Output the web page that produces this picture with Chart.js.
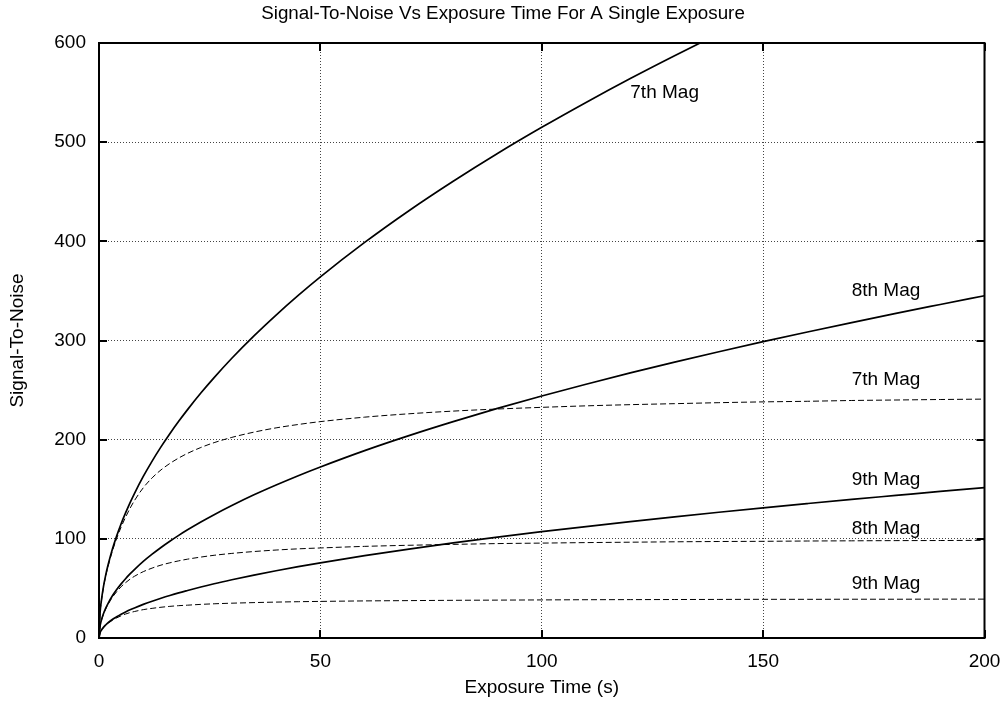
<!DOCTYPE html>
<html>
<head>
<meta charset="utf-8">
<script src="https://cdn.jsdelivr.net/npm/chart.js@4.4.1/dist/chart.umd.min.js"></script>
<style>
  html, body { margin: 0; padding: 0; background: #fff; }
  #snrChart { display: block; }
</style>
</head>
<body>
<canvas id="snrChart" width="1006" height="702"></canvas>
<script>
// exposure times (s) at which the curves are sampled
const exposureTimes = [0, 0.25, 0.5, 1, 1.5, 2, 3, 4, 5, 6, 7, 8, 10, 12, 14, 16, 18, 20, 23, 26, 30, 35, 40, 45, 50,
    60, 70, 80, 90, 100, 110, 120, 130, 140, 150, 160, 170, 180, 190, 200];

// solid curves
const mag7Solid = [0, 25.8, 36.4, 51.5, 63.1, 72.8, 89.2, 103.0, 115.2, 126.1, 136.3, 145.7, 162.9, 178.4, 192.7, 206.0, 218.5, 230.3, 247.0, 262.6, 282.1, 304.7, 325.7, 345.5, 364.2,
    398.9, 430.9, 460.6, 488.6, 515.0, 540.1, 564.2, 587.2, 609.4, null, null, null, null, null, null];
const mag8Solid = [0, 12.2, 17.3, 24.4, 29.9, 34.5, 42.3, 48.8, 54.6, 59.8, 64.6, 69.0, 77.2, 84.5, 91.3, 97.6, 103.5, 109.1, 117.0, 124.4, 133.6, 144.4, 154.3, 163.7, 172.5,
    189.0, 204.1, 218.2, 231.5, 244.0, 255.9, 267.3, 278.2, 288.7, 298.8, 308.6, 318.1, 327.4, 336.3, 345.1];
const mag9Solid = [0, 5.4, 7.6, 10.7, 13.1, 15.2, 18.6, 21.4, 24.0, 26.3, 28.4, 30.3, 33.9, 37.1, 40.1, 42.9, 45.5, 47.9, 51.4, 54.7, 58.7, 63.4, 67.8, 71.9, 75.8,
    83.0, 89.7, 95.9, 101.7, 107.2, 112.4, 117.4, 122.2, 126.8, 131.3, 135.6, 139.8, 143.8, 147.8, 151.6];

// dashed curves
const mag7Dashed = [0, 25.4, 35.8, 50.6, 62.0, 71.4, 87.3, 100.5, 111.9, 121.8, 130.7, 138.5, 151.5, 161.5, 169.5, 176.0, 181.5, 186.2, 192.1, 197.0, 202.3, 207.6, 211.9, 215.3, 218.2,
    222.7, 226.1, 228.8, 230.9, 232.6, 234.1, 235.3, 236.3, 237.3, 238.1, 238.7, 239.5, 240.0, 240.5, 240.9];
const mag8Dashed = [0, 12.0, 16.9, 23.8, 29.1, 33.5, 40.9, 46.7, 51.7, 55.8, 59.3, 62.2, 66.9, 70.5, 73.5, 75.8, 77.8, 79.5, 81.6, 83.4, 85.3, 87.2, 88.7, 89.9, 90.8,
    92.4, 93.5, 94.4, 95.2, 95.7, 96.2, 96.6, 97.0, 97.3, 97.5, 97.8, 98.0, 98.2, 98.3, 98.5];
const mag9Dashed = [0, 5.3, 7.4, 10.4, 12.7, 14.7, 17.8, 20.3, 22.4, 24.2, 25.6, 26.7, 28.6, 29.9, 31.0, 31.9, 32.6, 33.1, 33.9, 34.5, 35.1, 35.7, 36.2, 36.6, 36.9,
    37.4, 37.7, 38.0, 38.2, 38.4, 38.6, 38.7, 38.8, 38.9, 39.0, 39.0, 39.1, 39.1, 39.2, 39.2];

// curve labels, placed in data coordinates
const labelText = ['7th Mag', '8th Mag', '7th Mag', '9th Mag', '8th Mag', '9th Mag'];
const labelTime = [120, 170, 170, 170, 170, 170];
const labelSnr = [550, 350, 260, 160, 110, 55];

const xTicks = [0, 50, 100, 150, 200];
const yTicks = [0, 100, 200, 300, 400, 500, 600];

const FONT = "'Liberation Sans', Arial, Helvetica, sans-serif";
const FONT_SIZE = 19;

const toPoints = (ys) => exposureTimes.map((t, i) => ({ x: t, y: ys[i] }));

const lineSet = (ys, dashed) => ({
    data: toPoints(ys),
    borderColor: '#000',
    borderWidth: dashed ? 1 : 1.7,
    borderDash: dashed ? [6, 3] : [],
    pointRadius: 0,
    fill: false,
    cubicInterpolationMode: 'monotone',
});

// frame, inward ticks, title and labels in gnuplot style
const framePlugin = {
    id: 'framePlugin',
    afterDraw(chart) {
        const { ctx, chartArea: a, scales: { x, y } } = chart;
        ctx.save();
        ctx.strokeStyle = '#000';
        ctx.lineWidth = 2;
        ctx.strokeRect(a.left, a.top, a.right - a.left, a.bottom - a.top);

        ctx.beginPath();
        const tickLen = 8;
        xTicks.forEach(v => {
            const px = Math.round(x.getPixelForValue(v));
            ctx.moveTo(px, a.bottom); ctx.lineTo(px, a.bottom - tickLen);
            ctx.moveTo(px, a.top); ctx.lineTo(px, a.top + tickLen);
        });
        yTicks.forEach(v => {
            const py = Math.round(y.getPixelForValue(v));
            ctx.moveTo(a.left, py); ctx.lineTo(a.left + tickLen, py);
            ctx.moveTo(a.right, py); ctx.lineTo(a.right - tickLen, py);
        });
        ctx.stroke();

        ctx.fillStyle = '#000';
        ctx.font = FONT_SIZE + 'px ' + FONT;

        // title
        ctx.textAlign = 'center';
        ctx.textBaseline = 'middle';
        ctx.save();
        ctx.font = '18.8px ' + FONT;
        ctx.fillText('Signal-To-Noise Vs Exposure Time For A Single Exposure', chart.width / 2, 14);
        ctx.restore();

        // x axis title
        ctx.fillText('Exposure Time (s)', (a.left + a.right) / 2, 688);

        // y axis title
        ctx.save();
        ctx.translate(18, (a.top + a.bottom) / 2);
        ctx.rotate(-Math.PI / 2);
        ctx.fillText('Signal-To-Noise', 0, 0);
        ctx.restore();

        // curve labels
        ctx.textAlign = 'left';
        labelText.forEach((txt, i) => {
            ctx.fillText(txt, x.getPixelForValue(labelTime[i]), y.getPixelForValue(labelSnr[i]));
        });
        ctx.restore();
    }
};

const gridColor = (c) => (c.tick && (c.index === 0 || c.index === c.scale.ticks.length - 1)) ? 'rgba(0,0,0,0)' : '#444';

new Chart(document.getElementById('snrChart').getContext('2d'), {
    type: 'line',
    data: {
        datasets: [
            lineSet(mag7Solid, false),
            lineSet(mag8Solid, false),
            lineSet(mag9Solid, false),
            lineSet(mag7Dashed, true),
            lineSet(mag8Dashed, true),
            lineSet(mag9Dashed, true),
        ],
    },
    options: {
        responsive: false,
        animation: false,
        devicePixelRatio: 1,
        layout: { padding: { top: 43, right: 21.5, bottom: 0, left: 0 } },
        plugins: {
            legend: { display: false },
            title: { display: false },
            tooltip: { enabled: false },
        },
        scales: {
            x: {
                type: 'linear',
                min: 0,
                max: 200,
                afterFit: (s) => {
                    s.height = 64;
                    s.paddingLeft = 0;
                    s.paddingRight = 0;
                },
                afterBuildTicks: (s) => { s.ticks = xTicks.map(v => ({ value: v })); },
                ticks: {
                    color: '#000',
                    font: { family: FONT, size: FONT_SIZE },
                    padding: 12,
                    maxRotation: 0,
                },
                grid: {
                    color: gridColor,
                    lineWidth: 1,
                    drawTicks: false,
                },
                border: { display: false, dash: [1, 2] },
            },
            y: {
                type: 'linear',
                min: 0,
                max: 600,
                afterFit: (s) => {
                    s.width = 99;
                    s.paddingTop = 0;
                    s.paddingBottom = 0;
                },
                afterBuildTicks: (s) => { s.ticks = yTicks.map(v => ({ value: v })); },
                ticks: {
                    color: '#000',
                    font: { family: FONT, size: FONT_SIZE },
                    padding: 13,
                },
                grid: {
                    color: gridColor,
                    lineWidth: 1,
                    drawTicks: false,
                },
                border: { display: false, dash: [1, 2] },
            },
        },
    },
    plugins: [framePlugin],
});
</script>
</body>
</html>
